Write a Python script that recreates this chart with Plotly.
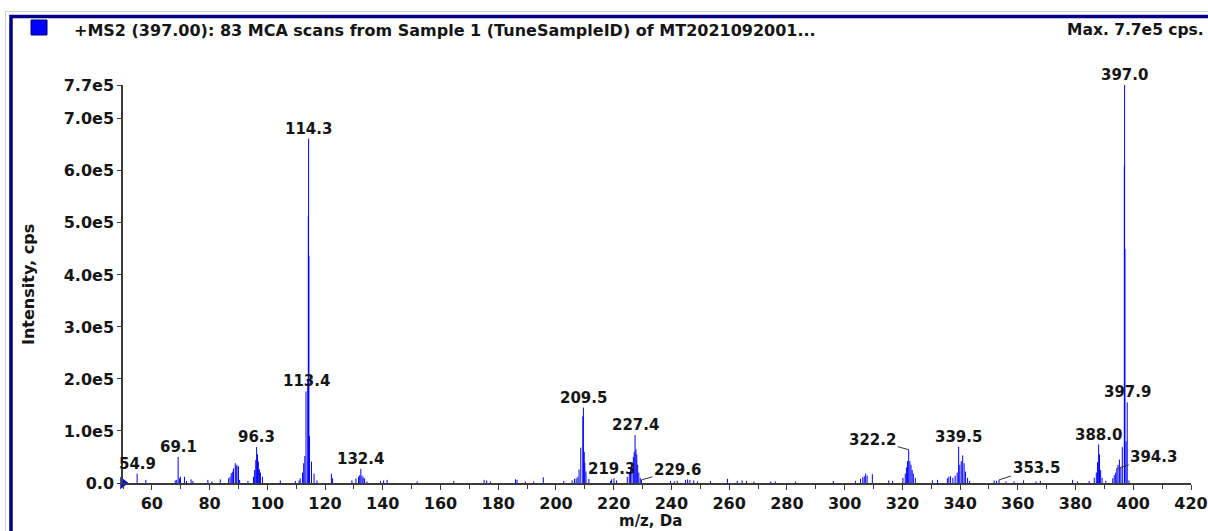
import plotly.graph_objects as go

# ---------------- data ----------------
mz = [54.9, 57.9, 68.1, 68.6, 69.1, 69.6, 69.9, 71.3, 72.0, 73.6, 74.2, 79.4, 80.8, 83.7,
      86.6, 87.1, 87.5, 88.0, 88.3, 88.9, 89.2, 89.5, 90.0, 90.4, 93.3,
      95.2, 95.6, 96.0, 96.3, 96.6, 96.9, 97.3, 97.6, 98.3, 104.5, 109.7,
      111.0, 111.4, 112.2, 112.6, 113.0, 113.4, 114.0, 114.2, 114.3, 114.4, 114.6,
      115.3, 116.2, 117.2, 122.2, 122.6, 129.3, 130.7, 131.6, 132.0, 132.4, 132.8,
      133.2, 133.7, 134.5, 139.2, 140.3, 141.5, 151.9, 164.6, 175.1, 176.0, 177.3,
      186.0, 186.5, 189.4, 192.3, 195.6, 202.7, 205.6, 206.4, 207.0, 207.6, 208.0,
      208.6, 209.3, 209.5, 209.8, 210.0, 210.4, 211.4, 218.9, 219.3, 220.1, 221.0,
      224.7, 225.4, 225.8, 226.3, 226.8, 227.1, 227.4, 227.7, 228.0, 228.3, 228.7,
      229.2, 229.6, 239.7, 241.0, 242.0, 244.9, 245.6, 246.4, 247.7, 249.0, 253.5,
      259.4, 262.8, 264.5, 266.0, 268.6, 274.4, 276.0, 283.0, 296.1, 303.8, 305.5,
      306.3, 306.8, 307.3, 307.8, 309.6, 315.3, 316.6, 320.2, 321.0, 321.4, 321.8,
      322.2, 322.6, 323.0, 323.4, 323.8, 324.5, 330.4, 332.2, 335.6, 336.1, 336.7,
      337.5, 338.3, 339.0, 339.5, 339.9, 340.4, 340.9, 341.4, 341.9, 342.6, 343.3,
      351.8, 352.6, 353.5, 355.9, 358.7, 362.0, 366.3, 367.8, 379.0, 380.7, 384.7,
      386.5, 387.2, 387.6, 388.0, 388.3, 388.7, 389.2, 390.5, 392.9, 393.4, 393.9,
      394.3, 394.7, 395.2, 395.7, 396.2, 396.9, 397.0, 397.1, 397.5, 397.9, 398.5]
intensity = [18000, 6000, 5000, 6000, 50000, 9000, 12000, 12000, 4000, 7000, 4000, 6000, 3000, 7000,
             9000, 12000, 19000, 22000, 28000, 38000, 33000, 35000, 32000, 6000, 4000,
             12000, 25000, 44000, 69000, 55000, 41000, 26000, 20000, 12000, 5000, 4000,
             5000, 9000, 20000, 38000, 52000, 176000, 200000, 513000, 662000, 437000, 90000,
             41000, 18000, 5000, 18000, 9000, 5000, 9000, 12000, 15000, 27000, 14000,
             11000, 9000, 3000, 4000, 5000, 6000, 3000, 4000, 6000, 5000, 3000,
             7000, 6000, 3000, 3000, 11000, 4000, 5000, 8000, 9000, 12000, 26000,
             68000, 128000, 145000, 60000, 39000, 22000, 8000, 4000, 7000, 9000, 5000,
             12000, 20000, 27000, 35000, 50000, 60000, 92000, 65000, 55000, 35000, 20000,
             10000, 6000, 4000, 3000, 4000, 6000, 7000, 6000, 5000, 3000, 4000,
             8000, 4000, 5000, 4000, 3000, 3000, 3000, 3000, 4000, 4000, 8000,
             11000, 13000, 18000, 14000, 17000, 5000, 4000, 10000, 18000, 30000, 42000,
             64000, 42000, 35000, 25000, 18000, 10000, 5000, 6000, 9000, 12000, 13000,
             10000, 14000, 20000, 70000, 35000, 42000, 53000, 38000, 22000, 10000, 4000,
             5000, 4000, 6000, 3000, 3000, 5000, 3000, 4000, 6000, 3000, 4000,
             10000, 20000, 40000, 74000, 55000, 25000, 10000, 4000, 9000, 15000, 20000,
             28000, 35000, 45000, 30000, 69000, 610000, 765000, 450000, 80000, 155000, 5000]

labelled_mz = [54.9, 69.1, 96.3, 113.4, 114.3, 132.4, 209.5, 219.3, 227.4, 229.6,
               322.2, 339.5, 353.5, 388.0, 394.3, 397.0, 397.9]

x_tick_vals = list(range(60, 421, 20))
y_tick_vals = [0, 100000, 200000, 300000, 400000, 500000, 600000, 700000, 765000]
y_tick_text = ["0.0", "1.0e5", "2.0e5", "3.0e5", "4.0e5", "5.0e5", "6.0e5", "7.0e5", "7.7e5"]

title_text = "+MS2 (397.00): 83 MCA scans from Sample 1 (TuneSampleID) of MT2021092001..."
max_text = "Max. 7.7e5 cps."

# ---------------- layout geometry ----------------
W, H = 1208, 531
L, R, T, B = 123, 1191, 85, 483
X_RANGE = [50, 420]
Y_RANGE = [0, 765000]

def pxx(p):
    return (p - L) / (R - L)

def pxy(p):
    return (B - p) / (B - T)

FONT = "DejaVu Sans"
TXT = "#151515"

# stick spectrum through the library's scales
sx, sy = [], []
for m, v in zip(mz, intensity):
    sx += [m, m, None]
    sy += [0, v, None]

fig = go.Figure()
fig.add_trace(go.Scatter(x=sx, y=sy, mode="lines",
                         line=dict(color="#0000FF", width=1),
                         hoverinfo="skip", showlegend=False))
fig.add_trace(go.Scatter(x=[X_RANGE[0]], y=[0], mode="markers",
                         marker=dict(symbol="triangle-right", size=11, color="#0000FF"),
                         cliponaxis=False, showlegend=False, hoverinfo="skip"))

# peak labels
lookup = dict(zip(mz, intensity))
leader = {229.6: (36, -10), 322.2: (-36, -10), 353.5: (37, -12), 394.3: (37, -11)}
annotations = []
for m in labelled_mz:
    v = lookup[m]
    txt = f"{m:.1f}"
    if m in leader:
        ax, ay = leader[m]
        annotations.append(dict(x=m, y=v, xref="x", yref="y", text=txt,
                                showarrow=True, arrowhead=0, arrowwidth=1,
                                arrowcolor="#333333", ax=ax, ay=ay,
                                font=dict(family=FONT, size=15, color=TXT, weight="bold")))
    else:
        annotations.append(dict(x=m, y=v, xref="x", yref="y", text=txt,
                                showarrow=False, yanchor="bottom", xanchor="center",
                                yshift=-1,
                                font=dict(family=FONT, size=15, color=TXT, weight="bold")))

# header texts
annotations.append(dict(x=pxx(72), y=pxy(30), xref="paper", yref="paper", text=title_text,
                        showarrow=False, xanchor="left", yanchor="middle",
                        font=dict(family=FONT, size=16, color=TXT, weight="bold")))
annotations.append(dict(x=pxx(1206), y=pxy(30), xref="paper", yref="paper", text=max_text,
                        showarrow=False, xanchor="right", yanchor="middle",
                        font=dict(family=FONT, size=15.5, color=TXT, weight="bold")))
# axis titles
annotations.append(dict(x=pxx(28), y=pxy(285), xref="paper", yref="paper",
                        text="Intensity, cps", textangle=-90, showarrow=False,
                        xanchor="center", yanchor="middle",
                        font=dict(family=FONT, size=16, color=TXT, weight="bold")))
annotations.append(dict(x=pxx(650), y=pxy(521), xref="paper", yref="paper",
                        text="m/z, Da", showarrow=False,
                        xanchor="center", yanchor="middle",
                        font=dict(family=FONT, size=15, color=TXT, weight="bold")))

shapes = [
    # outer light outline
    dict(type="rect", xref="paper", yref="paper", x0=pxx(5.5), y0=pxy(560), x1=pxx(1230), y1=pxy(11.5),
         line=dict(color="#c9d2e3", width=1), layer="below"),
    # navy frame
    dict(type="rect", xref="paper", yref="paper", x0=pxx(11), y0=pxy(560), x1=pxx(1230), y1=pxy(16.5),
         line=dict(color="#000080", width=3.5), layer="below"),
    # legend square
    dict(type="rect", xref="paper", yref="paper", x0=pxx(31), y0=pxy(35), x1=pxx(47), y1=pxy(20),
         fillcolor="#0000FF", line=dict(color="#00006a", width=1)),
]

fig.update_layout(
    template="none",
    width=W, height=H,
    autosize=False,
    margin=dict(l=L, r=W - R, t=T, b=H - B, pad=0),
    paper_bgcolor="white", plot_bgcolor="white",
    showlegend=False,
    annotations=annotations,
    shapes=shapes,
    xaxis=dict(range=X_RANGE, showgrid=False, zeroline=False, automargin=False,
               showline=True, linecolor="#3a3a3a", linewidth=1.5,
               ticks="outside", ticklen=5, tickcolor="#3a3a3a", tickwidth=1,
               tickvals=x_tick_vals, ticktext=[str(v) for v in x_tick_vals],
               minor=dict(dtick=10, tick0=0, ticks="outside", ticklen=4, tickcolor="#3a3a3a"),
               tickfont=dict(family=FONT, size=16, color=TXT, weight="bold"),
               fixedrange=True),
    yaxis=dict(range=Y_RANGE, showgrid=False, zeroline=False, automargin=False,
               showline=True, linecolor="#3a3a3a", linewidth=1.5,
               ticks="outside", ticklen=4, tickcolor="#3a3a3a", tickwidth=1,
               tickvals=y_tick_vals, ticktext=y_tick_text,
               tickfont=dict(family=FONT, size=16, color=TXT, weight="bold"),
               fixedrange=True),
)

fig.write_html("out.html")
